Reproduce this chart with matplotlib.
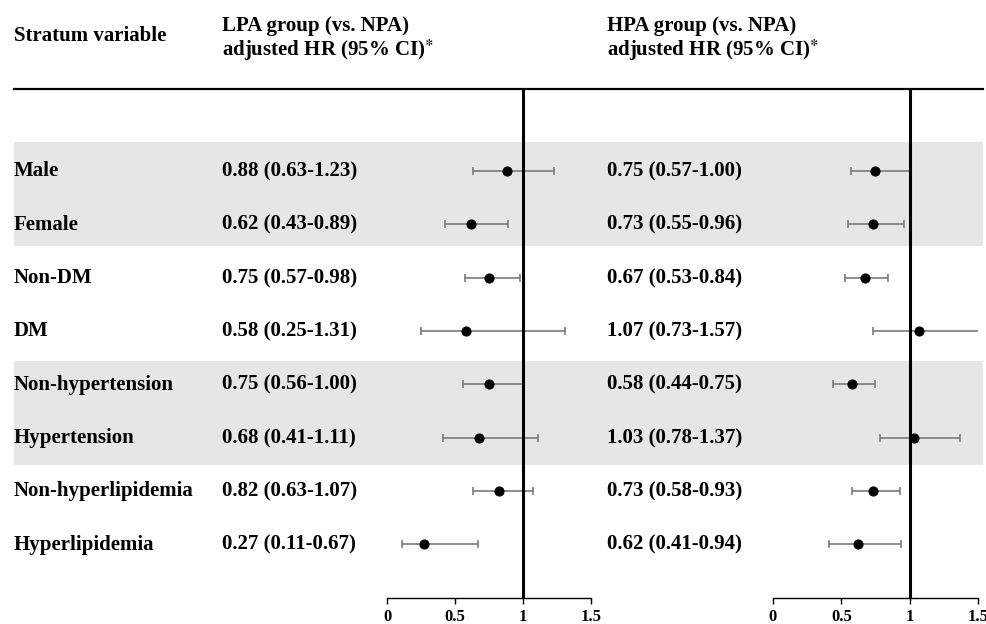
import matplotlib
matplotlib.use("Agg")
import matplotlib.pyplot as plt

plt.rcParams["font.family"] = ["Liberation Serif", "DejaVu Serif"]
plt.rcParams["font.weight"] = "bold"
plt.rcParams["mathtext.fontset"] = "stix"

strata = ["Male", "Female", "Non-DM", "DM", "Non-hypertension", "Hypertension",
          "Non-hyperlipidemia", "Hyperlipidemia"]

lpa_hr = [0.88, 0.62, 0.75, 0.58, 0.75, 0.68, 0.82, 0.27]
lpa_lo = [0.63, 0.43, 0.57, 0.25, 0.56, 0.41, 0.63, 0.11]
lpa_hi = [1.23, 0.89, 0.98, 1.31, 1.00, 1.11, 1.07, 0.67]

hpa_hr = [0.75, 0.73, 0.67, 1.07, 0.58, 1.03, 0.73, 0.62]
hpa_lo = [0.57, 0.55, 0.53, 0.73, 0.44, 0.78, 0.58, 0.41]
hpa_hi = [1.00, 0.96, 0.84, 1.57, 0.75, 1.37, 0.93, 0.94]

ticks = [0, 0.5, 1, 1.5]
tick_labels = ["0", "0.5", "1", "1.5"]

W, H = 987, 624
row0, step = 171, 53.3
rows = [row0 + step * i for i in range(len(strata))]

fig = plt.figure(figsize=(W / 100, H / 100), dpi=100)
bg = fig.add_axes([0, 0, 1, 1])
bg.set_xlim(0, W)
bg.set_ylim(H, 0)
bg.axis("off")

# shaded bands
for top, bot in [(142, 246), (361, 465)]:
    bg.axhspan(top, bot, xmin=14 / W, xmax=983 / W, color="#e6e6e6", lw=0)

# header
fs = 15
bg.text(14, 36, "Stratum variable", fontsize=fs, fontweight="bold", va="center")
for x0, grp in [(222, "LPA"), (607, "HPA")]:
    bg.text(x0, 26, f"{grp} group (vs. NPA)", fontsize=fs, fontweight="bold", va="center")
    bg.text(x0, 50, r"adjusted HR (95% CI)$^{\ast}$", fontsize=fs, fontweight="bold", va="center")
bg.plot([14, 983], [89, 89], color="black", lw=1.6)

def fmt(h, lo, hi):
    return f"{h:.2f} ({lo:.2f}-{hi:.2f})"

for i, y in enumerate(rows):
    bg.text(14, y + 0.5, strata[i], fontsize=fs, fontweight="bold", va="center")
    bg.text(222, y + 0.5, fmt(lpa_hr[i], lpa_lo[i], lpa_hi[i]), fontsize=fs,
            fontweight="bold", va="center")
    bg.text(607, y + 0.5, fmt(hpa_hr[i], hpa_lo[i], hpa_hi[i]), fontsize=fs,
            fontweight="bold", va="center")

def forest(x_left, x_right, hr, lo, hi):
    ax = fig.add_axes([x_left / W, (H - 598) / H, (x_right - x_left) / W, (598 - 90) / H])
    ax.patch.set_alpha(0)
    ax.set_xlim(0, 1.5)
    ax.set_ylim(598, 90)
    err = [[h - l for h, l in zip(hr, lo)], [u - h for h, u in zip(hr, hi)]]
    ax.errorbar(hr, rows, xerr=err, fmt="none", ecolor="#7a7a7a", elinewidth=1.2,
                capsize=3, capthick=1.2, zorder=2)
    ax.plot(hr, rows, "o", color="black", markersize=6.3, zorder=3)
    ax.axvline(1, color="black", lw=2.2, zorder=4)
    for s in ["top", "left", "right"]:
        ax.spines[s].set_visible(False)
    ax.spines["bottom"].set_linewidth(1.0)
    ax.set_yticks([])
    ax.set_xticks(ticks)
    ax.set_xticklabels(tick_labels, fontsize=12, fontweight="bold")
    ax.tick_params(axis="x", length=4, width=1.0, pad=4)
    return ax

forest(387, 591, lpa_hr, lpa_lo, lpa_hi)
forest(773, 978, hpa_hr, hpa_lo, hpa_hi)

fig.savefig("out.png", dpi=100)
